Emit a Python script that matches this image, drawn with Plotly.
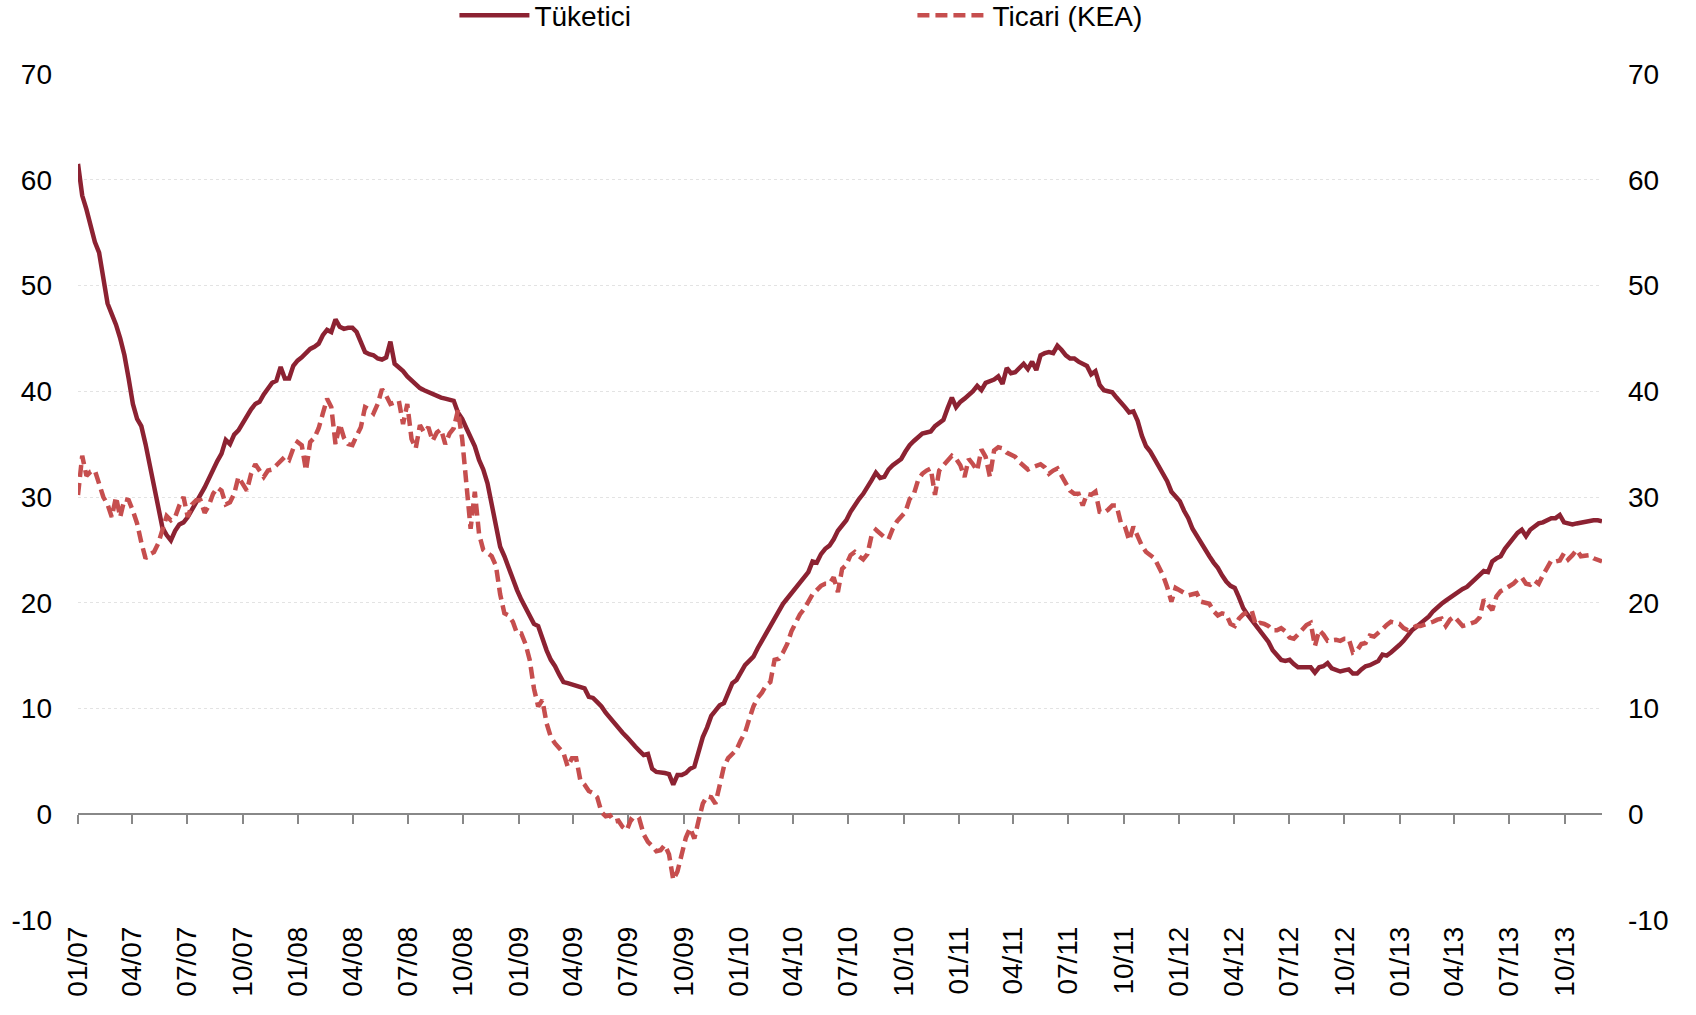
import pandas as pd
import plotly.graph_objects as go

# weekly growth rates (%), first week of Jan 2007 onwards
tuketici = [
    61.5, 58.5, 57.2, 55.8, 54.1, 53.1, 50.8, 48.3, 47.3, 46.3,
    45.0, 43.4, 41.2, 38.8, 37.4, 36.7, 35.0, 33.0, 30.9, 28.7,
    27.1, 26.4, 25.9, 26.8, 27.4, 27.6, 28.1, 28.8, 29.6, 30.2,
    30.9, 31.8, 32.7, 33.4, 34.1, 35.4, 35.0, 35.9, 36.3, 37.0,
    37.5, 38.3, 38.8, 39.0, 39.7, 40.3, 40.8, 41.0, 42.3, 41.2,
    41.2, 42.4, 42.9, 43.2, 43.6, 44.0, 44.2, 44.5, 45.3, 45.8,
    45.6, 46.8, 46.1, 45.9, 46.0, 46.0, 45.6, 44.6, 43.7, 43.5,
    43.4, 43.1, 43.0, 43.2, 44.7, 42.6, 42.3, 41.9, 41.4, 41.0,
    40.6, 40.3, 40.1, 39.9, 39.7, 39.5, 39.4, 39.3, 39.2, 39.1,
    38.0, 37.4, 36.5, 35.6, 34.8, 33.5, 32.6, 31.3, 29.2, 27.3,
    25.3, 24.4, 23.3, 22.1, 21.2, 20.3, 19.5, 18.7, 18.0, 17.8,
    16.5, 15.5, 14.6, 14.0, 13.2, 12.5, 12.4, 12.3, 12.2, 12.1,
    11.9, 11.1, 11.0, 10.6, 10.2, 9.6, 9.1, 8.6, 8.1, 7.7,
    7.3, 6.8, 6.4, 6.0, 5.6, 5.7, 4.3, 4.0, 4.0, 3.9,
    3.8, 2.8, 3.7, 3.7, 3.9, 4.3, 4.5, 5.9, 7.3, 8.2,
    9.3, 9.8, 10.3, 10.5, 11.5, 12.4, 12.7, 13.4, 14.1, 14.5,
    14.9, 15.7, 16.4, 17.2, 18.0, 18.6, 19.3, 19.9, 20.4, 20.9,
    21.4, 21.9, 22.4, 22.9, 23.9, 23.8, 24.6, 25.1, 25.4, 26.0,
    26.8, 27.3, 27.8, 28.6, 29.3, 29.8, 30.3, 30.9, 31.6, 32.3,
    31.8, 31.9, 32.6, 33.0, 33.3, 33.6, 34.3, 34.9, 35.3, 35.7,
    36.0, 36.1, 36.2, 36.7, 37.0, 37.3, 38.4, 39.4, 38.5, 39.0,
    39.3, 39.6, 40.0, 40.5, 40.1, 40.8, 40.9, 41.1, 41.4, 40.7,
    42.2, 41.7, 41.8, 42.2, 42.6, 42.1, 42.8, 42.0, 43.4, 43.6,
    43.7, 43.6, 44.3, 43.9, 43.4, 43.1, 43.1, 42.8, 42.6, 42.4,
    41.6, 41.9, 40.6, 40.1, 40.0, 39.9, 39.4, 39.0, 38.5, 38.0,
    38.1, 37.2, 35.8, 34.8, 34.3, 33.6, 32.9, 32.2, 31.5, 30.5,
    30.0, 29.6, 28.7, 28.0, 27.0, 26.3, 25.8, 25.0, 24.4, 23.8,
    23.3, 22.6, 22.0, 21.6, 21.4, 20.5, 19.5, 18.9, 18.4, 17.9,
    17.3, 16.9, 16.3, 15.5, 15.0, 14.6, 14.5, 14.6, 14.2, 13.9,
    13.9, 13.9, 13.9, 13.4, 13.9, 14.0, 14.3, 13.8, 13.6, 13.5,
    13.6, 13.7, 13.3, 13.3, 13.7, 14.0, 14.1, 14.3, 14.5, 15.1,
    15.0, 15.3, 15.6, 16.0, 16.4, 16.9, 17.4, 17.7, 18.0, 18.4,
    18.7, 19.2, 19.6, 19.9, 20.2, 20.5, 20.8, 21.0, 21.3, 21.5,
    21.9, 22.2, 22.7, 23.0, 22.9, 23.9, 24.2, 24.4, 25.1, 25.6,
    26.1, 26.6, 26.9, 26.3, 26.9, 27.2, 27.5, 27.6, 27.8, 28.0,
    28.0, 28.3, 27.6, 27.5, 27.4, 27.5, 27.6, 27.6, 27.8, 27.8,
    27.8, 27.7,
]

ticari = [
    30.2, 33.9, 32.0, 32.4, 32.5, 31.2, 30.0, 29.3, 28.1, 30.0,
    28.1, 29.8, 29.7, 28.7, 27.5, 25.7, 24.2, 24.6, 24.8, 25.6,
    27.0, 28.2, 27.8, 28.1, 29.2, 30.0, 28.1, 29.3, 29.7, 29.7,
    28.5, 29.2, 30.3, 30.9, 30.6, 29.3, 29.5, 30.3, 31.9, 31.2,
    30.6, 32.2, 33.1, 32.5, 31.9, 32.5, 32.6, 33.0, 33.4, 33.8,
    33.5, 34.6, 35.2, 34.9, 32.5, 35.2, 35.6, 36.5, 37.9, 39.3,
    38.5, 35.0, 36.9, 35.6, 35.0, 34.9, 35.8, 36.6, 38.5, 38.3,
    37.9, 38.8, 40.2, 39.6, 38.8, 39.0, 39.1, 36.9, 38.8, 35.5,
    34.6, 36.8, 36.1, 36.6, 35.3, 36.1, 36.4, 35.0, 36.0, 36.5,
    38.2, 35.5, 31.5, 27.0, 30.5, 26.5, 25.0, 24.7, 24.4, 23.5,
    20.8, 19.0, 18.8, 18.2, 17.1, 17.1, 16.1, 14.6, 11.9, 10.2,
    10.8, 8.6, 7.3, 6.7, 6.3, 5.8, 4.5, 5.3, 5.3, 3.2,
    2.8, 2.2, 2.0, 1.6, 0.2, -0.2, -0.1, -0.7, -0.6, -1.2,
    -1.5, -0.5, -0.8, -0.5, -1.9, -2.6, -3.0, -3.5, -3.4, -2.9,
    -3.8, -6.2, -5.4, -3.6, -2.2, -1.3, -2.3, -0.6, 1.0, 1.7,
    1.6, 1.0, 3.0, 4.5, 5.3, 5.7, 6.1, 7.0, 7.7, 9.0,
    10.2, 11.0, 11.5, 12.2, 12.5, 14.6, 14.7, 15.3, 16.1, 17.3,
    18.2, 18.9, 19.4, 20.2, 20.8, 21.2, 21.6, 21.8, 21.8, 22.4,
    21.0, 23.2, 23.6, 24.5, 24.8, 24.4, 24.1, 24.6, 26.4, 26.9,
    26.5, 26.2, 26.0, 27.0, 27.7, 28.2, 28.6, 29.8, 30.3, 31.6,
    32.2, 32.5, 32.7, 30.2, 32.5, 33.0, 33.5, 33.9, 33.6, 33.0,
    31.9, 33.6, 33.1, 32.5, 34.5, 33.8, 31.9, 34.4, 34.7, 34.6,
    34.2, 34.0, 33.8, 33.3, 33.0, 32.6, 32.8, 33.0, 33.1, 32.8,
    32.2, 32.5, 32.7, 32.0, 31.3, 30.6, 30.3, 30.3, 29.2, 30.3,
    30.2, 30.5, 28.6, 28.5, 28.8, 29.2, 29.2, 27.6, 27.2, 25.9,
    27.2, 26.2, 25.4, 24.8, 24.5, 24.2, 23.4, 22.6, 21.5, 20.1,
    21.4, 21.2, 20.9, 20.7, 20.8, 20.9, 20.1, 20.0, 19.9, 19.2,
    18.8, 19.0, 18.9, 18.0, 17.8, 18.5, 18.9, 19.1, 19.3, 17.9,
    18.1, 18.0, 17.8, 17.4, 17.4, 17.6, 17.3, 16.7, 16.6, 17.0,
    17.5, 17.9, 18.1, 15.9, 17.4, 17.0, 16.4, 16.5, 16.5, 16.4,
    16.6, 16.6, 15.3, 15.5, 16.1, 16.2, 16.9, 16.8, 17.1, 17.5,
    17.9, 18.2, 18.1, 18.0, 17.6, 17.4, 17.6, 17.8, 17.8, 17.9,
    18.0, 18.2, 18.4, 18.5, 17.8, 18.4, 18.7, 18.2, 17.8, 17.9,
    18.0, 18.2, 18.6, 20.3, 19.8, 19.3, 20.6, 21.1, 21.3, 21.5,
    21.8, 22.2, 22.4, 21.8, 21.7, 22.1, 21.8, 22.6, 23.4, 24.0,
    23.9, 24.0, 24.7, 24.1, 24.5, 25.0, 24.4, 24.5, 24.5, 24.2,
    24.0, 23.9,
]

start_date = "2007-01-01"
dates_t = pd.date_range(start_date, periods=len(tuketici), freq="7D")
dates_k = pd.date_range(start_date, periods=len(ticari), freq="7D")

y_ticks = [-10, 0, 10, 20, 30, 40, 50, 60, 70]
y_labels = ["-10", "0", "10", "20", "30", "40", "50", "60", "70"]

FONT = "Liberation Sans, Arial, sans-serif"
SOLID = "#8C2232"
DASHED = "#C64E4E"
FS = 28

fig = go.Figure()
fig.add_trace(go.Scatter(
    x=dates_t, y=tuketici, name="Tüketici", mode="lines",
    line=dict(color=SOLID, width=4.5),
))
fig.add_trace(go.Scatter(
    x=dates_k, y=ticari, name="Ticari (KEA)", mode="lines",
    line=dict(color=DASHED, width=4.5, dash="12px,6px"),
    xaxis="x2", yaxis="y2",
))

x_range = [dates_t[0], dates_t[-1]]

fig.update_layout(
    width=1696, height=1015,
    margin=dict(l=78, r=94, t=74, b=95, autoexpand=False),
    paper_bgcolor="white", plot_bgcolor="white",
    font=dict(family=FONT, size=FS, color="black"),
    showlegend=True,
    legend=dict(
        orientation="h", x=0.247, y=1.069, xanchor="left", yanchor="middle",
        font=dict(size=FS), entrywidth=373, itemwidth=70,
        bgcolor="rgba(0,0,0,0)", tracegroupgap=0,
    ),
    xaxis=dict(
        type="date", range=x_range, tick0="2007-01-01", dtick="M3",
        tickformat="%m/%y", tickangle=-90, ticks="", showline=False,
        showgrid=False, zeroline=False, ticklabelstandoff=0,
        tickfont=dict(size=FS),
    ),
    xaxis2=dict(
        type="date", matches="x", overlaying="x", anchor="free",
        position=10 / 80, tick0="2007-01-01", dtick="M3",
        showticklabels=False, ticks="outside", ticklen=9, tickwidth=2,
        tickcolor="#888888", showline=True, linecolor="#888888",
        linewidth=2, showgrid=False, zeroline=False, layer="below traces",
    ),
    yaxis=dict(
        range=[-10, 70], tickvals=y_ticks, ticktext=y_labels, showgrid=True,
        gridcolor="#E3E3E3", griddash="dot", gridwidth=1,
        zeroline=False, showline=False, ticks="",
        ticklabelstandoff=25, tickfont=dict(size=FS),
    ),
    yaxis2=dict(
        range=[-10, 70], tickvals=y_ticks, ticktext=y_labels, matches="y",
        overlaying="y", side="right", anchor="x", showgrid=False,
        zeroline=False, showline=False, ticks="", ticklabelstandoff=25,
        tickfont=dict(size=FS),
    ),
)

# drop the default page margin so the figure fills the window exactly
fig.write_html(
    "out.html",
    config={"displayModeBar": False},
    post_script="document.body.style.margin='0';",
)
